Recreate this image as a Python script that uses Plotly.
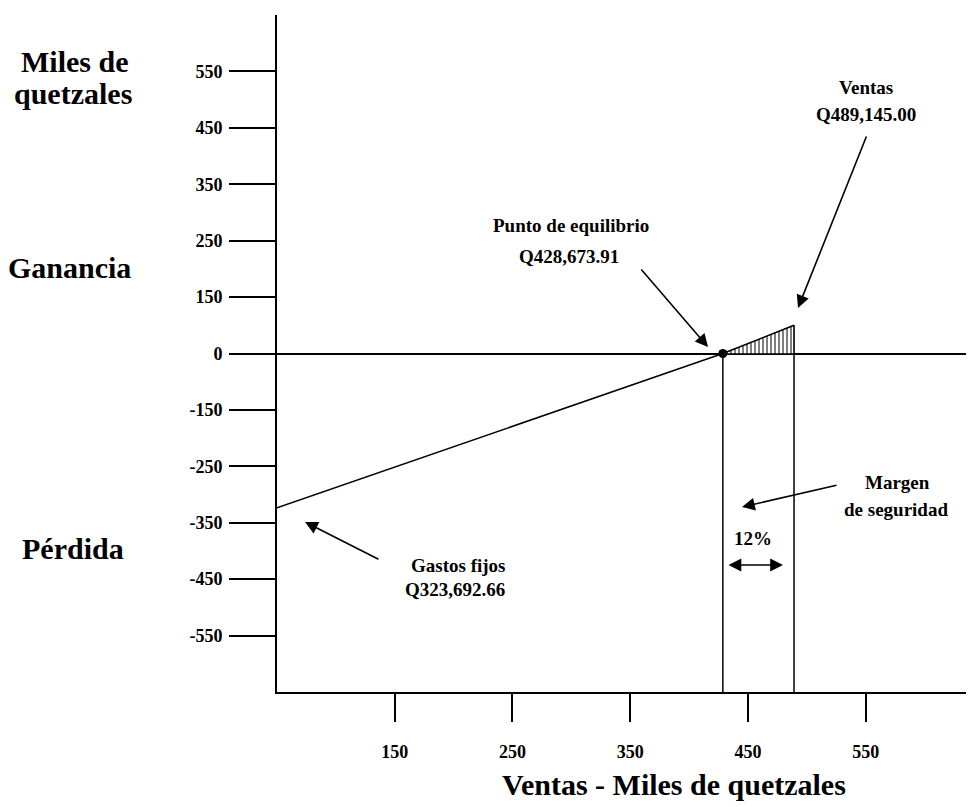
"""Grafico de punto de equilibrio (ventas vs ganancia/perdida)."""

import numpy as np
import plotly.graph_objects as go


# Datos (miles de quetzales)
X_TICKS = [150, 250, 350, 450, 550]
Y_LABELS = [-550, -450, -350, -250, -150, 0, 150, 250, 350, 450, 550]
X_INICIO = 50
GASTOS_FIJOS = -323.69266
PUNTO_EQUILIBRIO = 428.67391
VENTAS = 489.145
GANANCIA_VENTAS = 75

FONT = "Liberation Serif"
BLACK = "#000000"

# Eje Y esquematico: cada etiqueta ocupa un paso igual
Y_POS = list(range(-5, 6))
Y_RANGE = [-6, 6]
X_RANGE = [50, 642]


def ypos(v):
    return np.interp(v, Y_LABELS, Y_POS)


# La pagina deja 8px de margen alrededor de la figura
OFF = 8
W, H = 966, 799
L, R, T, B = 269, 0, 7, 115
PW, PH = W - L - R, H - T - B


def px(x):
    return (x - OFF - L) / PW


def py(y):
    return (H - B - (y - OFF)) / PH


fig = go.Figure()

# Area sombreada (ganancia)
fig.add_trace(go.Scatter(
    x=[PUNTO_EQUILIBRIO, VENTAS, VENTAS, PUNTO_EQUILIBRIO],
    y=[0, ypos(GANANCIA_VENTAS), 0, 0],
    mode="lines", line=dict(color=BLACK, width=0.5),
    fill="toself", fillcolor="white",
    fillpattern=dict(shape="|", fgcolor=BLACK, bgcolor="white", size=4, solidity=0.5),
    hoverinfo="skip", showlegend=False,
))

# Linea de resultado
fig.add_trace(go.Scatter(
    x=[X_INICIO, PUNTO_EQUILIBRIO, VENTAS],
    y=ypos([GASTOS_FIJOS, 0, GANANCIA_VENTAS]),
    mode="lines", line=dict(color=BLACK, width=1.5),
    hoverinfo="skip", showlegend=False,
))

# Verticales en punto de equilibrio y ventas
fig.add_trace(go.Scatter(
    x=[PUNTO_EQUILIBRIO, PUNTO_EQUILIBRIO, None, VENTAS, VENTAS],
    y=[0, Y_RANGE[0], None, ypos(GANANCIA_VENTAS), Y_RANGE[0]],
    mode="lines", line=dict(color=BLACK, width=1.5),
    hoverinfo="skip", showlegend=False,
))

# Punto de equilibrio
fig.add_trace(go.Scatter(
    x=[PUNTO_EQUILIBRIO], y=[0], mode="markers",
    marker=dict(color=BLACK, size=9),
    hoverinfo="skip", showlegend=False,
))

annotations = []


def texto(t, x, y, size=19):
    annotations.append(dict(
        text=t, x=px(x), y=py(y), xref="paper", yref="paper",
        showarrow=False, xanchor="center", yanchor="middle",
        font=dict(family=FONT, size=size, color=BLACK),
    ))


def flecha(hx, hy, tx, ty, ambos=False):
    annotations.append(dict(
        text="", x=px(hx), y=py(hy), xref="paper", yref="paper",
        ax=tx - hx, ay=ty - hy, showarrow=True,
        arrowhead=2, arrowsize=1.6, arrowwidth=1.6, arrowcolor=BLACK,
        startarrowhead=2, startarrowsize=1.6,
        arrowside="end+start" if ambos else "end",
    ))


texto("<b>Miles de</b>", 74, 62, 30)
texto("<b>quetzales</b>", 73, 94, 30)
texto("<b>Ganancia</b>", 69, 267, 30)
texto("<b>Pérdida</b>", 73, 548, 30)
texto("<b>Ventas - Miles de quetzales</b>", 674, 784, 30)

texto("<b>Punto de equilibrio</b>", 571, 225)
texto("<b>Q428,673.91</b>", 569, 256)
texto("<b>Ventas</b>", 866, 87)
texto("<b>Q489,145.00</b>", 866, 114)
texto("<b>Gastos fijos</b>", 458, 565)
texto("<b>Q323,692.66</b>", 455, 589)
texto("<b>Margen</b>", 897, 482)
texto("<b>de seguridad</b>", 896, 509)
texto("<b>12%</b>", 753, 538)

flecha(708, 347, 640, 268)
flecha(798, 308, 867, 135)
flecha(305, 522, 380, 560)
flecha(742, 507, 838, 485)
flecha(783, 565, 727, 565, ambos=True)

fig.update_layout(
    width=W, height=H,
    margin=dict(l=L, r=R, t=T, b=B),
    paper_bgcolor="white", plot_bgcolor="white",
    showlegend=False,
    annotations=annotations,
    xaxis=dict(
        range=X_RANGE, showgrid=False, zeroline=False,
        showline=True, linecolor=BLACK, linewidth=2,
        tickmode="array", tickvals=X_TICKS,
        ticktext=[f"<b>{v}</b>" for v in X_TICKS],
        ticks="outside", ticklen=28, tickwidth=2, tickcolor=BLACK,
        ticklabelstandoff=14,
        tickfont=dict(family=FONT, size=18, color=BLACK),
    ),
    yaxis=dict(
        range=Y_RANGE, showgrid=False,
        zeroline=True, zerolinecolor=BLACK, zerolinewidth=2,
        showline=True, linecolor=BLACK, linewidth=2,
        tickmode="array", tickvals=Y_POS,
        ticktext=[f"<b>{v}</b>" for v in Y_LABELS],
        ticks="outside", ticklen=46, tickwidth=2, tickcolor=BLACK,
        ticklabelstandoff=3,
        tickfont=dict(family=FONT, size=18, color=BLACK),
    ),
)

fig.write_html("out.html")
